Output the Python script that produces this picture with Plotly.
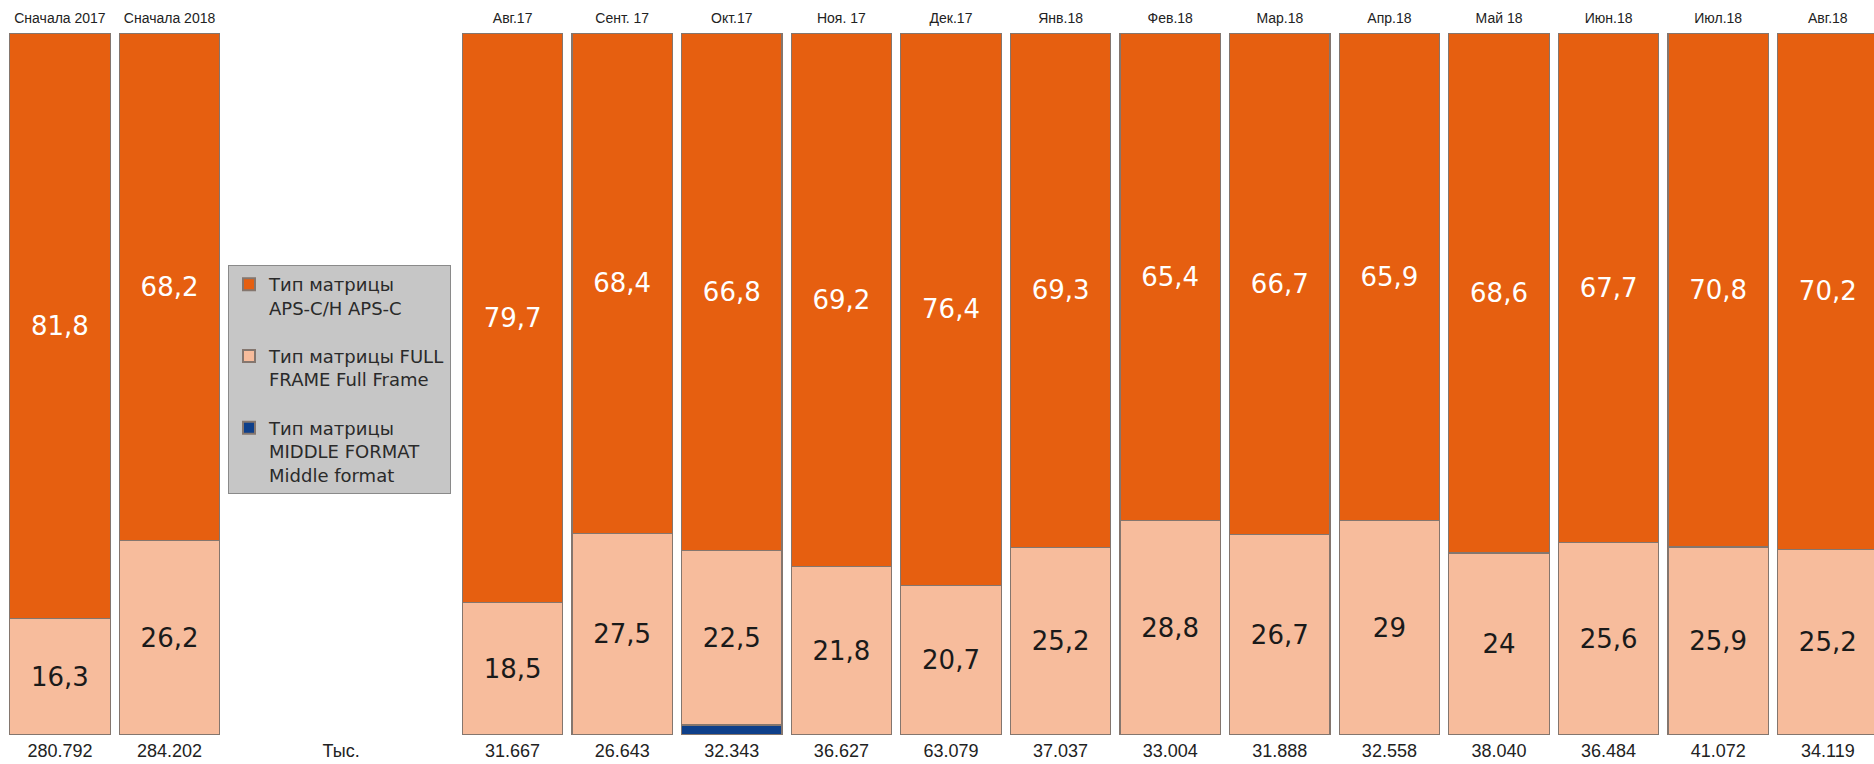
import plotly.graph_objects as go

# ---- data ----
categories = ["Сначала 2017", "Сначала 2018", "Авг.17", "Сент. 17", "Окт.17", "Ноя. 17",
              "Дек.17", "Янв.18", "Фев.18", "Мар.18", "Апр.18", "Май 18", "Июн.18",
              "Июл.18", "Авг.18"]
aps_c = [81.8, 68.2, 79.7, 68.4, 66.8, 69.2, 76.4, 69.3, 65.4, 66.7, 65.9, 68.6, 67.7, 70.8, 70.2]
full_frame = [16.3, 26.2, 18.5, 27.5, 22.5, 21.8, 20.7, 25.2, 28.8, 26.7, 29, 24, 25.6, 25.9, 25.2]
middle_format = [0, 0, 0, 0, 1.3, 0, 0, 0, 0, 0, 0, 0, 0, 0, 0]
totals = ["280.792", "284.202", "31.667", "26.643", "32.343", "36.627", "63.079", "37.037",
          "33.004", "31.888", "32.558", "38.040", "36.484", "41.072", "34.119"]
units_label = "Тыс."
series_names = ["Тип матрицы<br>APS-C/H APS-C",
                "Тип матрицы FULL<br>FRAME Full Frame",
                "Тип матрицы<br>MIDDLE FORMAT<br>Middle format"]

# ---- layout helpers ----
GAP = 3.13  # space between the two summary bars and the monthly bars
xpos = [i if i < 2 else i - 1 + GAP for i in range(len(categories))]
units_x = (xpos[1] + xpos[2]) / 2

def fmt(v):
    return f"{v:g}".replace(".", ",")

FONT = "Liberation Sans, Arial, sans-serif"
VFONT = "DejaVu Sans, sans-serif"
ORANGE = "#E65F10"
PEACH = "#F7BC9C"
BLUE = "#0E3F8A"
EDGE = "#84766e"
BW = 0.916

fig = go.Figure()
fig.add_trace(go.Bar(x=xpos, y=middle_format, name=series_names[2], legendgroup="c",
                     marker=dict(color=BLUE, line=dict(color=EDGE, width=1.2)),
                     width=BW, legendrank=3))
fig.add_trace(go.Bar(x=xpos, y=full_frame, name=series_names[1], legendgroup="b",
                     marker=dict(color=PEACH, line=dict(color=EDGE, width=1.2)),
                     text=[fmt(v) for v in full_frame], textposition="inside", insidetextanchor="middle",
                     textangle=0, textfont=dict(color="#1a1a1a", size=26, family=VFONT), width=BW, legendrank=2))
fig.add_trace(go.Bar(x=xpos, y=aps_c, name=series_names[0], legendgroup="a",
                     marker=dict(color=ORANGE, line=dict(color=EDGE, width=1.2)),
                     text=[fmt(v) for v in aps_c], textposition="inside", insidetextanchor="middle",
                     textangle=0, textfont=dict(color="white", size=26, family=VFONT), width=BW, legendrank=1))
# invisible trace anchoring the top axis
fig.add_trace(go.Scatter(x=[xpos[0]], y=[0], xaxis="x2", mode="markers", marker=dict(opacity=0),
                         showlegend=False, hoverinfo="skip"))

x0 = -0.547
x1 = x0 + 1874 / 109.6

fig.update_layout(
    barmode="stack", barnorm="percent",
    width=1874, height=764,
    margin=dict(l=0, r=0, t=33, b=29, autoexpand=False),
    paper_bgcolor="white", plot_bgcolor="white",
    font=dict(family=FONT, color="#1a1a1a"),
    showlegend=True,
    legend=dict(x=228 / 1874, y=1 - (265 - 33) / 702, xanchor="left", yanchor="top",
                bgcolor="#c6c6c6", bordercolor="#8a8a8a", borderwidth=1,
                font=dict(size=18, color="#2a2a2a", family=VFONT), valign="top",
                traceorder="grouped", itemsizing="constant", tracegroupgap=22, itemwidth=30),
    xaxis=dict(range=[x0, x1], tickmode="array", tickvals=xpos + [units_x], ticktext=totals + [units_label],
               showgrid=False, zeroline=False, showline=False, ticks="", automargin=False,
               ticklabelstandoff=3, tickfont=dict(size=18, color="#222222"), fixedrange=True),
    xaxis2=dict(range=[x0, x1], overlaying="x", side="top", tickmode="array", tickvals=xpos, ticktext=categories,
                showgrid=False, zeroline=False, showline=False, ticks="", automargin=False,
                ticklabelstandoff=6, tickfont=dict(size=14, color="#222222")),
    yaxis=dict(range=[0, 100], visible=False, fixedrange=True, automargin=False),
)

fig.write_html("out.html", config={"displayModeBar": False},
               post_script="document.body.style.margin='0';document.body.style.overflow='hidden';")
